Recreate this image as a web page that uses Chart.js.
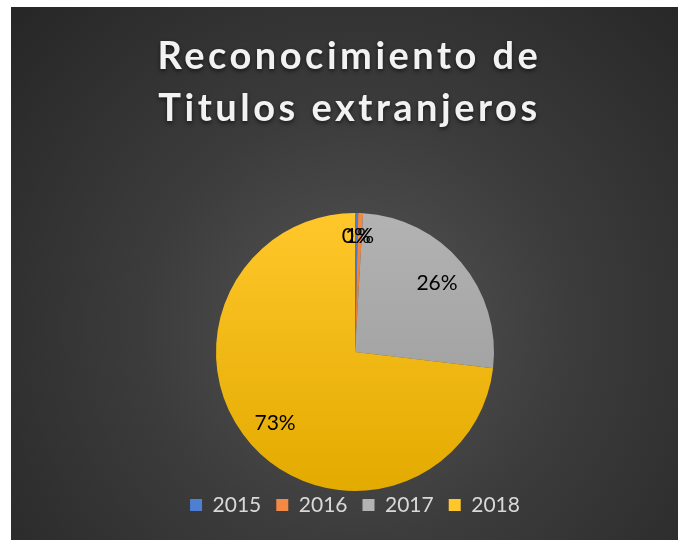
<!DOCTYPE html>
<html>
<head>
<meta charset="utf-8">
<script src="https://cdn.jsdelivr.net/npm/chart.js@4.4.0/dist/chart.umd.min.js"></script>
<style>
  html, body { margin: 0; padding: 0; background: #ffffff; }
  #panel {
    position: absolute; left: 11px; top: 7px; width: 667px; height: 533px;
    background: radial-gradient(circle at 52% 60%, #555555 0%, #3c3c3c 45%, #262626 100%);
  }
  #title {
    position: absolute; left: 10px; right: 0; top: 21px;
    text-align: center; color: #f2f2f2;
    font-family: Lato, "Open Sans", sans-serif; font-weight: bold;
    font-size: 38px; line-height: 52px; letter-spacing: 3.5px;
    text-shadow: 0 2px 4px rgba(0, 0, 0, 0.6);
  }
  canvas { position: absolute; left: 0; top: 0; }
</style>
</head>
<body>
<div id="panel">
  <canvas id="chart" width="667" height="533"></canvas>
  <div id="title">Reconocimiento de<br>Titulos extranjeros</div>
</div>
<script>
const labels = ['2015', '2016', '2017', '2018']
const values = [2, 3, 140, 395]
const topColors = ['#4f7fd2', '#f28a45', '#b3b3b3', '#ffc72a']
const bottomColors = ['#3a64b0', '#d96c20', '#979797', '#e3aa00']

const PIE_RADIUS = 139

function sliceFill(context) {
  const i = context.dataIndex
  const area = context.chart.chartArea
  if (!area) return topColors[i]
  const cy = (area.top + area.bottom) / 2
  const g = context.chart.ctx.createLinearGradient(0, cy - PIE_RADIUS, 0, cy + PIE_RADIUS)
  g.addColorStop(0, topColors[i])
  g.addColorStop(1, bottomColors[i])
  return g
}

// percentage labels inside the slices
const pctLabels = {
  id: 'pctLabels',
  afterDatasetsDraw(chart) {
    const ctx = chart.ctx
    const meta = chart.getDatasetMeta(0)
    const total = values.reduce((a, b) => a + b, 0)
    ctx.save()
    ctx.font = '21px Lato, "Open Sans", sans-serif'
    ctx.fillStyle = '#000000'
    ctx.textAlign = 'center'
    ctx.textBaseline = 'middle'
    meta.data.forEach((arc, i) => {
      const p = arc.getProps(['x', 'y', 'startAngle', 'endAngle', 'outerRadius'], true)
      const mid = (p.startAngle + p.endAngle) / 2
      const share = values[i] / total
      const r = p.outerRadius * (share < 0.02 ? 0.83 : 0.77)
      const text = Math.round(share * 100) + '%'
      ctx.fillText(text, p.x + Math.cos(mid) * r, p.y + Math.sin(mid) * r)
    })
    ctx.restore()
  }
}

new Chart(document.getElementById('chart'), {
  type: 'pie',
  data: {
    labels: labels,
    datasets: [{
      data: values,
      backgroundColor: sliceFill,
      borderWidth: 0
    }]
  },
  options: {
    responsive: false,
    animation: false,
    radius: PIE_RADIUS,
    layout: {
      padding: { top: 217.5, bottom: 14.5, left: 21, right: 0 }
    },
    plugins: {
      legend: {
        display: true,
        position: 'bottom',
        labels: {
          boxWidth: 12,
          boxHeight: 12,
          padding: 15,
          color: '#d9d9d9',
          font: { family: 'Lato, "Open Sans", sans-serif', size: 21 },
          generateLabels(chart) {
            return labels.map((text, i) => ({
              text: text,
              fillStyle: topColors[i],
              strokeStyle: topColors[i],
              lineWidth: 0,
              fontColor: '#d9d9d9',
              index: i
            }))
          }
        }
      },
      tooltip: { enabled: false }
    }
  },
  plugins: [pctLabels]
})
</script>
</body>
</html>
